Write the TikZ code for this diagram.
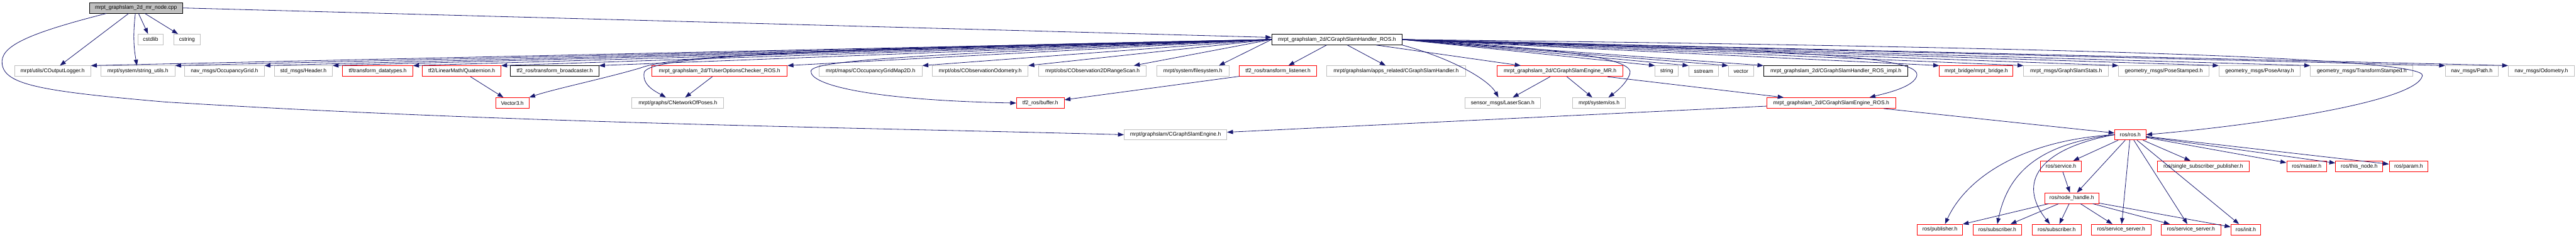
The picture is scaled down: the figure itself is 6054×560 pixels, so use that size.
\documentclass[tikz,border=0pt]{standalone}
\usepackage{fontspec}
\setmainfont{Liberation Sans}
\usepackage{tikz}
\usetikzlibrary{arrows.meta}
\definecolor{edgeblue}{HTML}{191970}
\definecolor{boxgray}{HTML}{BFBFBF}
\definecolor{boxred}{HTML}{FF0000}
\tikzset{
  hdr/.style={draw=boxgray, line width=1.3pt, minimum height=25pt, inner sep=0pt,
              font=\fontsize{12.6}{14}\selectfont},
  hdrdoc/.style={hdr, draw=black},
  hdrcut/.style={hdr, draw=boxred},
  hdrroot/.style={hdr, draw=black, fill=boxgray},
  dep/.style={draw=edgeblue, line width=1.2pt, -{Triangle[length=14pt,width=10pt]}},
}

\begin{document}
\begin{tikzpicture}[x=1pt,y=-1pt,line cap=round]
  \useasboundingbox (0,0) rectangle (6054,560);
  % ====== kok dosya ======
  \node[hdrroot,minimum width=219pt] (root) at (319.5,18.7) {mrpt\_graphslam\_2d\_mr\_node.cpp};
  % ====== seviye 1 ======
  \node[hdr,minimum width=60pt] (cstdlib) at (354,93) {cstdlib};
  \node[hdr,minimum width=61pt] (cstring) at (439.5,93) {cstring};
  \node[hdrdoc,minimum width=306pt] (handler) at (3142,93) {mrpt\_graphslam\_2d/CGraphSlamHandler\_ROS.h};
  % ====== seviye 2 ======
  \node[hdr,minimum width=179pt] (outlog) at (123.5,167.5) {mrpt/utils/COutputLogger.h};
  \node[hdr,minimum width=174pt] (strutil) at (324,167.5) {mrpt/system/string\_utils.h};
  \node[hdr,minimum width=187pt] (occgrid) at (527.5,167.5) {nav\_msgs/OccupancyGrid.h};
  \node[hdr,minimum width=136pt] (header) at (713,167.5) {std\_msgs/Header.h};
  \node[hdrcut,minimum width=165pt] (tfdata) at (887.5,167.5) {tf/transform\_datatypes.h};
  \node[hdrcut,minimum width=184pt] (quat) at (1085,167.5) {tf2/LinearMath/Quaternion.h};
  \node[hdrdoc,minimum width=207pt] (tfbroad) at (1303.5,167.5) {tf2\_ros/transform\_broadcaster.h};
  \node[hdrcut,minimum width=318pt] (tuser) at (1691,167.5) {mrpt\_graphslam\_2d/TUserOptionsChecker\_ROS.h};
  \node[hdr,minimum width=242pt] (occmap) at (2046,167.5) {mrpt/maps/COccupancyGridMap2D.h};
  \node[hdr,minimum width=225pt] (obsodo) at (2303.5,167.5) {mrpt/obs/CObservationOdometry.h};
  \node[hdr,minimum width=253pt] (obsscan) at (2567.5,167.5) {mrpt/obs/CObservation2DRangeScan.h};
  \node[hdr,minimum width=171pt] (filesys) at (2803.5,167.5) {mrpt/system/filesystem.h};
  \node[hdrcut,minimum width=181pt] (tflisten) at (3003.5,167.5) {tf2\_ros/transform\_listener.h};
  \node[hdr,minimum width=326pt] (apphandler) at (3281,167.5) {mrpt/graphslam/apps\_related/CGraphSlamHandler.h};
  \node[hdrcut,minimum width=295pt] (engmr) at (3666.5,167.5) {mrpt\_graphslam\_2d/CGraphSlamEngine\_MR.h};
  \node[hdr,minimum width=54pt] (string) at (3917,167.5) {string};
  \node[hdr,minimum width=69pt] (sstream) at (4003.5,167.5) {sstream};
  \node[hdr,minimum width=59pt] (vector) at (4091.5,167.5) {vector};
  \node[hdrdoc,minimum width=339pt] (impl) at (4314.5,167.5) {mrpt\_graphslam\_2d/CGraphSlamHandler\_ROS\_impl.h};
  \node[hdrcut,minimum width=173pt] (bridge) at (4644.5,167.5) {mrpt\_bridge/mrpt\_bridge.h};
  \node[hdr,minimum width=199pt] (gsstats) at (4855.5,167.5) {mrpt\_msgs/GraphSlamStats.h};
  \node[hdr,minimum width=212pt] (posestamp) at (5085,167.5) {geometry\_msgs/PoseStamped.h};
  \node[hdr,minimum width=191pt] (posearr) at (5310.5,167.5) {geometry\_msgs/PoseArray.h};
  \node[hdr,minimum width=241pt] (tfstamp) at (5550.5,167.5) {geometry\_msgs/TransformStamped.h};
  \node[hdr,minimum width=124pt] (path) at (5809,167.5) {nav\_msgs/Path.h};
  \node[hdr,minimum width=155pt] (odom) at (5972.5,167.5) {nav\_msgs/Odometry.h};
  % ====== seviye 3 ======
  \node[hdrcut,minimum width=78pt] (vec3) at (1204,242.5) {Vector3.h};
  \node[hdr,minimum width=216pt] (netposes) at (1593,242.5) {mrpt/graphs/CNetworkOfPoses.h};
  \node[hdrcut,minimum width=112pt] (buffer) at (2445,242.5) {tf2\_ros/buffer.h};
  \node[hdr,minimum width=177pt] (laser) at (3531.5,242.5) {sensor\_msgs/LaserScan.h};
  \node[hdr,minimum width=124pt] (os) at (3758,242.5) {mrpt/system/os.h};
  \node[hdrcut,minimum width=303pt] (engros) at (4303.5,242.5) {mrpt\_graphslam\_2d/CGraphSlamEngine\_ROS.h};
  % ====== seviye 4 ======
  \node[hdr,minimum width=241pt] (engine) at (2762.5,317) {mrpt/graphslam/CGraphSlamEngine.h};
  \node[hdrcut,minimum width=73pt] (ros) at (5006.5,317) {ros/ros.h};
  % ====== ros alt agaci ======
  \node[hdrcut,minimum width=97pt] (service) at (4843.5,391.5) {ros/service.h};
  \node[hdrcut,minimum width=216pt] (singlesub) at (5178,391.5) {ros/single\_subscriber\_publisher.h};
  \node[hdrcut,minimum width=94pt] (master) at (5421,391.5) {ros/master.h};
  \node[hdrcut,minimum width=111pt] (thisnode) at (5544.5,391.5) {ros/this\_node.h};
  \node[hdrcut,minimum width=91pt] (param) at (5660.5,391.5) {ros/param.h};
  \node[hdrcut,minimum width=128pt] (nodehandle) at (4869,466.5) {ros/node\_handle.h};
  \node[hdrcut,minimum width=106pt] (publisher) at (4559,540.5) {ros/publisher.h};
  \node[hdrcut,minimum width=114pt] (sub1) at (4694,540.5) {ros/subscriber.h};
  \node[hdrcut,minimum width=115pt] (sub2) at (4833.5,540.5) {ros/subscriber.h};
  \node[hdrcut,minimum width=140pt] (srv1) at (4985,540.5) {ros/service\_server.h};
  \node[hdrcut,minimum width=140pt] (srv2) at (5149,540.5) {ros/service\_server.h};
  \node[hdrcut,minimum width=70pt] (init) at (5278,540.5) {ros/init.h};

  % ====== kok kenarlari ======
  \draw[dep] (root) -- (cstdlib);
  \draw[dep] (root) -- (cstring);
  \draw[dep] (root) -- (outlog);
  \draw[dep] (root) to[bend right=8] (strutil);
  \draw[dep] (root.east) -- ([yshift=5pt]handler.west);
  \draw[dep] ([xshift=40pt]root.south west) .. controls (60,80) and (0,110) .. (5,150)
             .. controls (10,200) and (100,215) .. (388,240)
             .. controls (1200,290) and (2000,300) .. (engine.west);
  % ====== handler -> sol ======
  \draw[dep] (handler.west) -- (outlog.north east);
  \draw[dep] (handler.west) -- (strutil.north east);
  \draw[dep] (handler.west) -- (occgrid.north east);
  \draw[dep] (handler.west) -- (header.north east);
  \draw[dep] (handler.west) -- (tfdata.north east);
  \draw[dep] (handler.west) -- (quat.north east);
  \draw[dep] (handler.west) -- (tfbroad.north east);
  \draw[dep] (handler.west) -- (tuser.north east);
  \draw[dep] (handler.west) -- (occmap.north east);
  \draw[dep] (handler.west) -- (obsodo.north east);
  \draw[dep] (handler.west) -- ([xshift=-30pt]obsscan.north east);
  \draw[dep] (handler.west) -- ([xshift=-25pt]filesys.north east);
  \draw[dep] (handler.west) .. controls (1700,118) and (1560,140) .. (1505,160)
             .. controls (1420,185) and (1300,210) .. (vec3.north east);
  \draw[dep] (handler.west) .. controls (1800,118) and (1530,135) .. (1514,170)
             .. controls (1508,200) and (1540,215) .. ([xshift=-28pt]netposes.north);
  \draw[dep] (handler.west) .. controls (2200,128) and (1910,140) .. (1906,167)
             .. controls (1902,200) and (2050,236) .. (buffer.west);
  % ====== handler -> alt ======
  \draw[dep] (handler) -- (tflisten);
  \draw[dep] (handler) -- (apphandler);
  \draw[dep] (handler) -- (engmr);
  \draw[dep] (handler.south east) .. controls (3420,140) and (3500,190) .. ([xshift=-10pt]laser.north);
  \draw[dep] (handler.east) .. controls (3700,115) and (3845,140) .. (3830,175)
             .. controls (3820,200) and (3795,218) .. ([xshift=22pt]os.north);
  \draw[dep] (handler.east) .. controls (4200,118) and (4510,130) .. (4505,177)
             .. controls (4500,205) and (4430,220) .. ([xshift=90pt]engros.north);
  \draw[dep] (handler.east) .. controls (5000,112) and (5700,140) .. (5693,178)
             .. controls (5680,240) and (5300,295) .. (ros.east);
  % ====== handler -> sag ======
  \draw[dep] (handler.east) -- (string.north west);
  \draw[dep] (handler.east) -- (sstream.north west);
  \draw[dep] (handler.east) -- (vector.north west);
  \draw[dep] (handler.east) -- (impl.north west);
  \draw[dep] (handler.east) -- (bridge.north west);
  \draw[dep] (handler.east) -- (gsstats.north west);
  \draw[dep] (handler.east) -- (posestamp.north west);
  \draw[dep] (handler.east) -- (posearr.north west);
  \draw[dep] (handler.east) -- (tfstamp.north west);
  \draw[dep] (handler.east) -- (path.north west);
  \draw[dep] (handler.east) -- (odom.north west);
  % ====== ara kenarlar ======
  \draw[dep] (quat) -- (vec3);
  \draw[dep] (tuser) -- (netposes);
  \draw[dep] (tflisten) -- (buffer);
  \draw[dep] (engmr) -- (laser);
  \draw[dep] (engmr) -- (os);
  \draw[dep] (engmr) -- (engros);
  \draw[dep] (engros) -- (engine);
  \draw[dep] (engros) -- (ros);
  % ====== ros kenarlari ======
  \draw[dep] (ros) -- (service);
  \draw[dep] (ros) -- (nodehandle);
  \draw[dep] (ros) -- (singlesub);
  \draw[dep] (ros) -- (master);
  \draw[dep] (ros) -- (thisnode);
  \draw[dep] (ros) -- (param);
  \draw[dep] (ros) -- (init);
  \draw[dep] (ros) -- (srv1);
  \draw[dep] (ros) -- (srv2);
  \draw[dep] (ros.west) .. controls (4750,330) and (4620,420) .. ([xshift=12pt]publisher.north);
  \draw[dep] (ros.west) .. controls (4800,338) and (4720,400) .. (sub1.north);
  \draw[dep] (ros.west) .. controls (4790,350) and (4740,430) .. ([xshift=-16pt]sub2.north);
  \draw[dep] (service) -- (nodehandle);
  \draw[dep] (nodehandle) -- (publisher);
  \draw[dep] (nodehandle) -- (sub1);
  \draw[dep] (nodehandle) -- (sub2);
  \draw[dep] (nodehandle) -- (srv1);
  \draw[dep] (nodehandle) -- (srv2);
  \draw[dep] (nodehandle) -- (init);
\end{tikzpicture}
\end{document}
